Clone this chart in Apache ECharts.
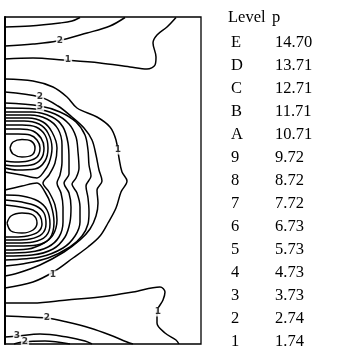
<!DOCTYPE html>
<html>
<head>
<meta charset="utf-8">
<script src="https://cdn.jsdelivr.net/npm/echarts@6/dist/echarts.min.js"></script>
<style>
  html, body { margin: 0; padding: 0; background: #fff; }
  #chart { width: 362px; height: 353px; }
</style>
</head>
<body>
<div id="chart"></div>
<script>
// level table
const levelNames = ['E', 'D', 'C', 'B', 'A', '9', '8', '7', '6', '5', '4', '3', '2', '1'];
const levelP = ['14.70', '13.71', '12.71', '11.71', '10.71', '9.72', '8.72', '7.72', '6.73', '5.73', '4.73', '3.73', '2.74', '1.74'];

// contour lines (x, depth)
const topC3 = [[5, 27], [30, 26], [60, 23], [72, 21], [80, 17.5]];
const topC2 = [[5, 46], [33, 44], [57, 41], [87, 33], [110, 26], [125, 17.5]];
const topC1 = [[5, 59], [33, 58], [63, 60], [100, 63], [130, 67], [147, 69], [155, 65], [156, 57], [153, 43], [157, 35], [167, 27], [176, 17.5]];

const botC1 = [[5, 303], [33, 303], [67, 300], [100, 297], [133, 292], [160, 287], [165, 292], [163, 300], [157, 312], [157, 323], [165, 333], [176, 340], [179, 344]];
const botC2 = [[5, 316], [27, 317], [47, 318], [67, 322], [90, 328], [110, 335], [127, 342], [133, 344]];
const botC3 = [[5, 337], [17, 336], [40, 334], [67, 337], [85, 341], [92, 344]];
const botC2b = [[14, 344], [22, 342], [45, 341], [70, 344]];

const wrap1 = [[5, 79], [33, 81], [53, 87], [67, 97], [77, 108], [97, 117], [110, 127], [116, 140], [119, 158], [122, 172], [127, 181], [121, 192], [116, 208], [108, 223], [100, 236], [88, 247], [73, 258], [55, 271], [33, 282], [5, 288]];
const wrap2 = [[5, 92], [40, 97], [58, 106], [72, 117], [84, 128], [92, 140], [96, 155], [99, 170], [102, 181], [97, 190], [98, 203], [96, 216], [90, 229], [80, 240], [64, 252], [40, 265], [18, 273], [5, 276]];
const wrap3 = [[5, 103], [40, 106], [60, 112], [76, 122], [85, 135], [88, 150], [89, 165], [91, 176], [86, 186], [88, 198], [89, 212], [88, 224], [82, 236], [70, 247], [48, 258], [22, 264], [5, 266]];
const wrap4 = [[5, 108], [35, 109], [55, 114], [69, 124], [76, 137], [78, 152], [79, 168], [76, 178], [72, 184], [77, 193], [80, 207], [80, 222], [75, 236], [63, 248], [40, 257], [5, 260]];
const wrap5 = [[5, 112], [32, 112], [52, 117], [63, 127], [68, 143], [69, 160], [69, 174], [64, 183], [69, 193], [71, 207], [70, 222], [65, 237], [53, 249], [32, 255], [5, 256]];
const wrap6 = [[5, 115], [30, 115], [47, 119], [58, 129], [62, 145], [62, 162], [60, 175], [57, 183], [61, 193], [63, 207], [63, 222], [59, 237], [48, 247], [30, 252], [5, 253]];
const wrap7 = [[5, 118], [28, 118], [43, 122], [52, 132], [57, 148], [55, 163], [49, 175], [43, 183], [49, 192], [55, 205], [57, 220], [53, 235], [44, 243], [28, 249], [5, 250]];

const upper1 = [[5, 121], [24, 121], [39, 124], [48, 133], [52, 148], [49, 163], [43, 173], [37, 178], [22, 175], [5, 172]];
const upper2 = [[5, 125], [22, 125], [36, 127], [45, 135], [48, 148], [45, 161], [35, 169], [17, 170], [5, 168]];
const upper3 = [[5, 129], [20, 129], [33, 131], [41, 138], [44, 148], [41, 159], [31, 165], [15, 166], [5, 165]];
const upper4 = [[5, 134], [18, 134], [30, 135], [37, 140], [40, 148], [37, 157], [28, 161], [15, 162], [5, 161]];
const upperPeak = [[10, 148], [13, 142], [22, 139.5], [31, 141], [35, 148], [32, 155], [22, 157], [13, 154], [10, 148]];

const lower1 = [[5, 190], [22, 186], [37, 183], [45, 192], [51, 205], [54, 222], [50, 238], [37, 245], [18, 246], [5, 246]];
const lower2 = [[5, 195], [22, 196], [38, 201], [47, 210], [50, 224], [46, 236], [33, 242], [17, 243], [5, 243]];
const lower3 = [[5, 200], [22, 202], [36, 206], [44, 213], [46, 224], [42, 234], [30, 239], [15, 240], [5, 240]];
const lower4 = [[5, 205], [20, 207], [33, 210], [40, 216], [42, 224], [38, 232], [27, 236], [14, 237], [5, 237]];
const lowerPeak = [[7, 223], [11, 216], [22, 213], [33, 215], [37, 223], [33, 230], [22, 233], [11, 231], [7, 223]];

const contourLabels = [[60, 41, '2'], [68, 60, '1'], [40, 97, '2'], [40, 107, '3'], [118, 150, '1'], [53, 275, '1'], [47, 318, '2'], [17, 336, '3'], [158, 312, '1'], [25, 342, '2']];

const contours = [topC3, topC2, topC1, botC1, botC2, botC3, botC2b,
  wrap1, wrap2, wrap3, wrap4, wrap5, wrap6, wrap7,
  upper1, upper2, upper3, upper4, upperPeak,
  lower1, lower2, lower3, lower4, lowerPeak];

const chart = echarts.init(document.getElementById('chart'));

const lineSeries = contours.map((pts) => {
  return {
    type: 'line',
    data: pts,
    smooth: 0.35,
    symbol: 'none',
    silent: true,
    animation: false,
    lineStyle: { color: '#000', width: 1.5 }
  };
});

const tableFont = '16.5px "Liberation Serif"';
const tableText = [
  { type: 'text', left: 228, top: 9, style: { text: 'Level', font: tableFont, fill: '#000' } },
  { type: 'text', left: 272, top: 9, style: { text: 'p', font: tableFont, fill: '#000' } }
];
levelNames.forEach((name, i) => {
  tableText.push({ type: 'text', left: 231, top: 34 + i * 23, style: { text: name, font: tableFont, fill: '#000' } });
  tableText.push({ type: 'text', left: 275, top: 34 + i * 23, style: { text: levelP[i], font: tableFont, fill: '#000' } });
});

chart.setOption({
  animation: false,
  grid: {
    left: 5, top: 17, width: 196, height: 327,
    show: true, borderColor: '#000', borderWidth: 1.3
  },
  xAxis: {
    type: 'value', min: 5, max: 201,
    axisLine: { show: false }, axisTick: { show: false },
    axisLabel: { show: false }, splitLine: { show: false }
  },
  yAxis: {
    type: 'value', min: 17, max: 344, inverse: true,
    axisLine: { show: true, onZero: false, lineStyle: { color: '#000', width: 2 } },
    axisTick: { show: false },
    axisLabel: { show: false }, splitLine: { show: false }
  },
  graphic: tableText,
  series: lineSeries.concat([{
    type: 'scatter',
    data: contourLabels,
    symbolSize: 0,
    silent: true,
    z: 5,
    label: {
      show: true,
      position: 'inside',
      formatter: (p) => p.data[2],
      fontFamily: 'DejaVu Sans',
      fontSize: 9,
      fontWeight: 'bold',
      color: '#000',
      backgroundColor: '#fff',
      padding: [0, 1]
    }
  }])
});
</script>
</body>
</html>
